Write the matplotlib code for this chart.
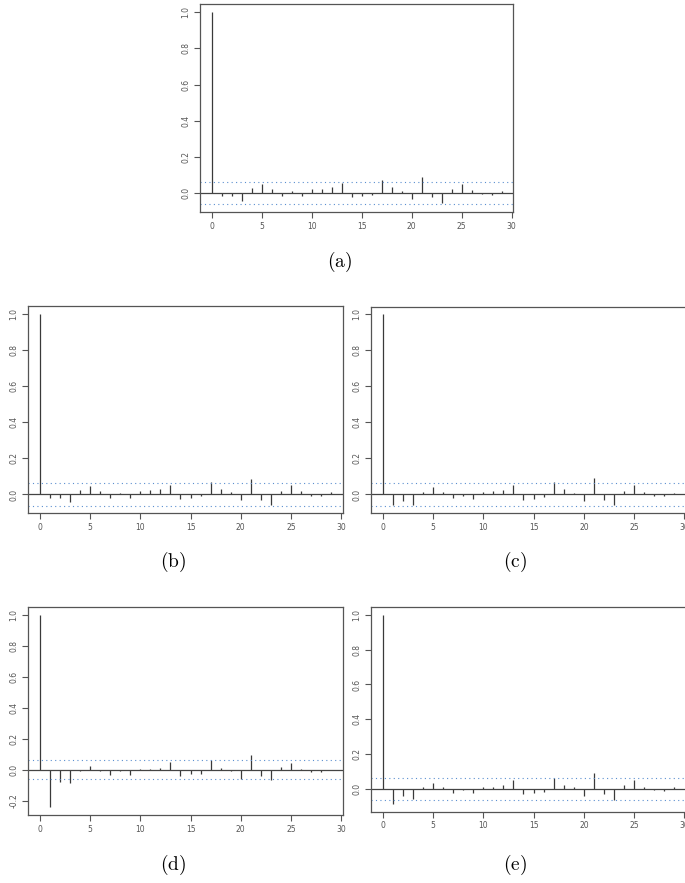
import numpy as np
import matplotlib
matplotlib.use("Agg")
import matplotlib.pyplot as plt

plt.rcParams['mathtext.fontset'] = 'cm'

# Autocorrelation values for lags 0..29 in each panel
lags = np.arange(30)
acf_a = [1.0, -0.017, -0.017, -0.043, 0.026, 0.05, 0.02, -0.015, 0.009, -0.018,
         0.02, 0.024, 0.031, 0.056, -0.022, -0.018, -0.009, 0.07, 0.031, 0.009,
         -0.03, 0.087, -0.022, -0.054, 0.02, 0.05, 0.017, -0.005, -0.01, 0.009]
acf_b = [1.0, -0.022, -0.02, -0.043, 0.022, 0.046, 0.019, -0.02, 0.007, -0.02,
         0.019, 0.022, 0.032, 0.054, -0.026, -0.022, -0.011, 0.067, 0.028, 0.011,
         -0.033, 0.087, -0.028, -0.056, 0.019, 0.05, 0.017, -0.007, -0.011, 0.011]
acf_c = [1.0, -0.061, -0.035, -0.059, 0.015, 0.039, 0.013, -0.022, -0.006, -0.024,
         0.015, 0.017, 0.024, 0.05, -0.028, -0.024, -0.015, 0.067, 0.028, 0.009,
         -0.035, 0.089, -0.031, -0.061, 0.017, 0.05, 0.015, -0.007, -0.011, 0.009]
acf_d = [1.0, -0.243, -0.079, -0.086, -0.006, 0.024, -0.009, -0.036, -0.006, -0.036,
         0.006, 0.006, 0.009, 0.047, -0.043, -0.028, -0.028, 0.062, 0.009, -0.006,
         -0.058, 0.097, -0.041, -0.069, 0.017, 0.043, 0.006, -0.017, -0.017, 0.0]
acf_e = [1.0, -0.087, -0.043, -0.06, 0.009, 0.036, 0.009, -0.023, -0.008, -0.023,
         0.013, 0.013, 0.023, 0.049, -0.032, -0.024, -0.017, 0.064, 0.023, 0.009,
         -0.04, 0.089, -0.03, -0.062, 0.021, 0.049, 0.013, -0.009, -0.011, 0.008]
conf = 0.062
panel_labels = ['(a)', '(b)', '(c)', '(d)', '(e)']

W, H = 685, 883
fig = plt.figure(figsize=(W / 100, H / 100), dpi=100)

# box of each panel in pixels: left, top, right, bottom
boxes = [(200.3, 4.5, 513.3, 212.0),
         (28.3, 306.5, 342.7, 513.3),
         (371.0, 306.7, 686.0, 513.3),
         (28.3, 607.3, 342.7, 815.0),
         (371.0, 607.3, 686.0, 811.5)]
label_pos = [(340, 262), (173, 562), (515, 562), (173, 865), (515, 865)]
series = [acf_a, acf_b, acf_c, acf_d, acf_e]

gray = '#555555'
for vals, (l, t, r, b), (lx, ly), lab in zip(series, boxes, label_pos, panel_labels):
    ax = fig.add_axes([l / W, 1 - b / H, (r - l) / W, (b - t) / H])
    vals = np.array(vals)
    ax.vlines(lags, 0, vals, color='#3a3a3a', linewidth=0.9)
    ax.axhline(0, color='#444444', linewidth=0.9)
    ax.axhline(conf, color='#5b8fd0', linestyle=(0, (1, 3)), linewidth=0.8)
    ax.axhline(-conf, color='#5b8fd0', linestyle=(0, (1, 3)), linewidth=0.8)

    # R style limits: data range plus 4% on each side
    lo = min(vals.min(), -conf)
    hi = 1.0
    pad = 0.04 * (hi - lo)
    ax.set_ylim(lo - pad, hi + pad)
    ax.set_xlim(-0.04 * 29, 29 + 0.04 * 29)

    ax.set_xticks(np.arange(0, 31, 5))
    yt = [v for v in np.round(np.arange(-0.2, 1.01, 0.2), 1) if v >= lo - pad]
    ax.set_yticks(yt)
    ax.set_yticklabels(['%.1f' % v for v in yt], rotation=90, va='center')
    ax.tick_params(labelsize=5.5, colors=gray, length=4, width=0.8, pad=3)
    for s in ax.spines.values():
        s.set_color(gray)
        s.set_linewidth(0.9)

    fig.text(lx / W, 1 - ly / H, r'$\mathrm{' + lab + '}$', fontsize=14,
             ha='center', va='center')

fig.savefig('out.png', dpi=100)
